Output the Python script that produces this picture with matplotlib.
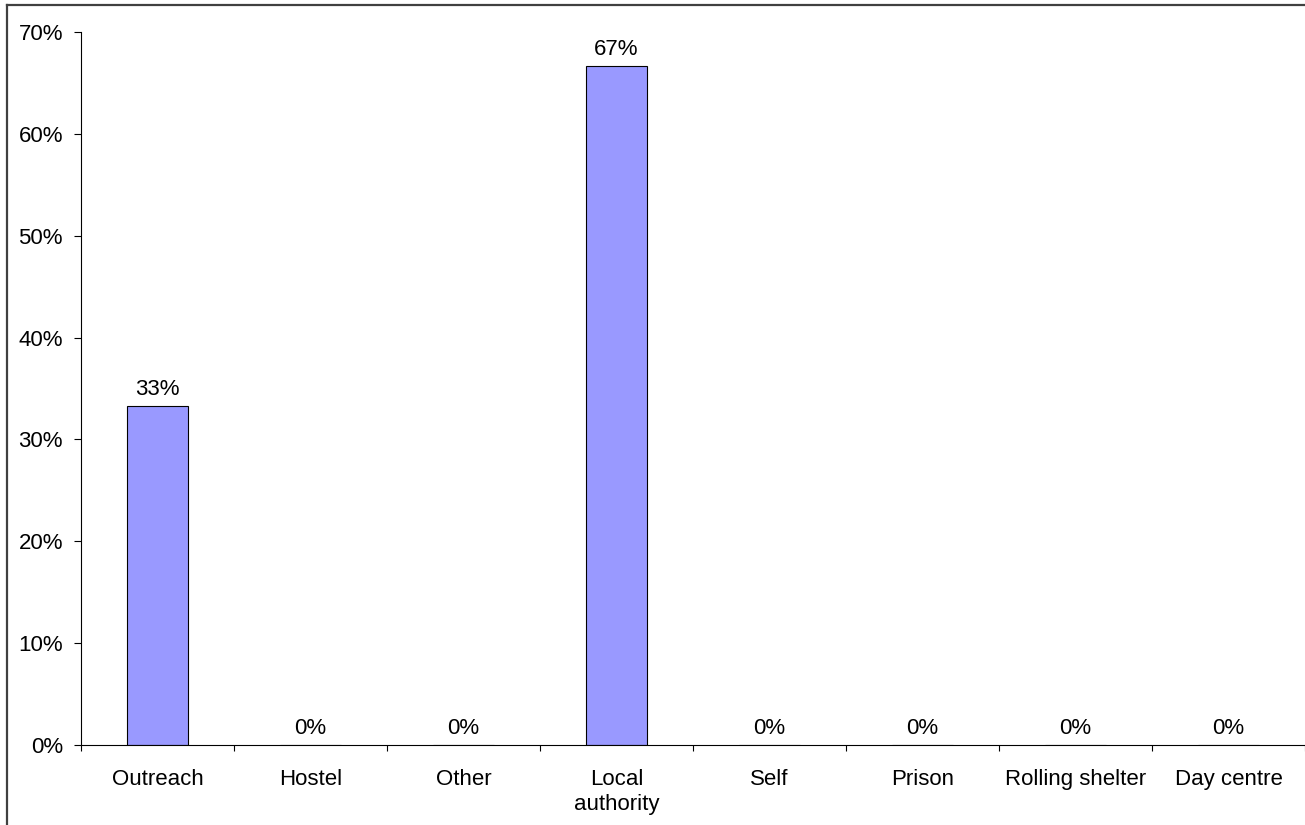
import matplotlib
matplotlib.use("Agg")
import matplotlib.pyplot as plt
from matplotlib.lines import Line2D
from matplotlib.ticker import FixedLocator, PercentFormatter

categories = ["Outreach", "Hostel", "Other", "Local\nauthority", "Self", "Prison",
              "Rolling shelter", "Day centre"]
values = [33.3, 0, 0, 66.7, 0, 0, 0, 0]
labels = ["33%", "0%", "0%", "67%", "0%", "0%", "0%", "0%"]
yticks = [0, 10, 20, 30, 40, 50, 60, 70]

plt.rcParams['font.family'] = ['Liberation Sans', 'DejaVu Sans']
FS = 16
W, H = 1305, 825
fig = plt.figure(figsize=(W / 100, H / 100), dpi=100)
ax = fig.add_axes([81 / W, 1 - 745 / H, 1 - 81 / W, (745 - 32) / H])

x = list(range(len(categories)))
bars = ax.bar(x, values, width=0.405, color="#9999FF", edgecolor="black", linewidth=0.8)
for xi, v, lab in zip(x, values, labels):
    ax.annotate(lab, (xi, v), xytext=(0, 4), textcoords="offset points",
                ha="center", va="bottom", fontsize=FS)

ax.set_xlim(-0.5, len(categories) - 0.5)
ax.set_ylim(0, 70)
ax.set_yticks(yticks)
ax.yaxis.set_major_formatter(PercentFormatter(decimals=0))
ax.set_xticks(x)
ax.set_xticklabels(categories, fontsize=FS, linespacing=1.25)
ax.xaxis.set_minor_locator(FixedLocator([i - 0.5 for i in range(len(categories) + 1)]))
ax.tick_params(axis="x", which="major", length=0, pad=17)
ax.tick_params(axis="x", which="minor", length=4, width=0.8, direction="out")
ax.tick_params(axis="y", which="major", length=5, width=0.8, pad=8, labelsize=FS)
for s in ("top", "right"):
    ax.spines[s].set_visible(False)
for s in ("left", "bottom"):
    ax.spines[s].set_linewidth(0.8)

# outer chart border (left and top visible)
fx = 7 / W
fy = 1 - 5 / H
fig.add_artist(Line2D([fx, fx], [fy, 0], transform=fig.transFigure, color="#404040", lw=1.6))
fig.add_artist(Line2D([fx, 1], [fy, fy], transform=fig.transFigure, color="#404040", lw=1.6))

fig.savefig("out.png", dpi=100)
